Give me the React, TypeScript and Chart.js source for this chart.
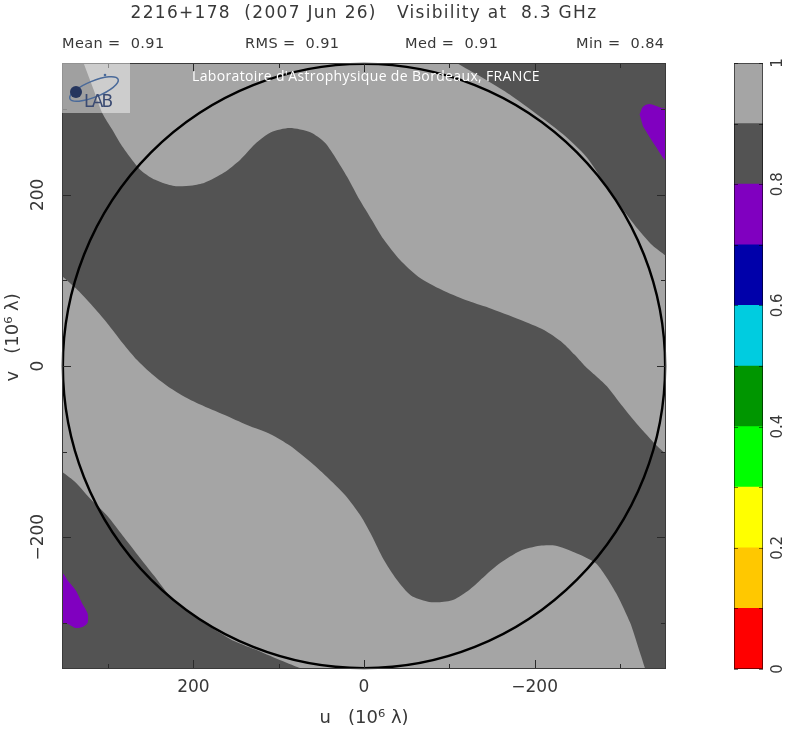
import React, { useEffect, useRef } from "react";
import { Chart, registerables } from "chart.js";

Chart.register(...registerables);

// ---------- data ----------
const AXIS_LIMIT = 354; // u, v half range (10^6 lambda)
const CIRCLE_RADIUS = 353;
const axisTickValues = [-300, -200, -100, 0, 100, 200, 300];
const axisLabelValues = [-200, 0, 200];

type Pt = [number, number];

// upper edge of the central dark band (0.8-0.9), from top edge to right edge
const upperBandEdge: Pt[] = [
  [331, 362], [329, 355], [317, 323], [307, 296], [295, 276], [285, 259], [272, 241],
  [261, 228], [248, 219], [233, 213], [219, 210], [201, 211], [187, 214], [164, 226],
  [145, 241], [128, 259], [109, 273], [87, 278], [63, 273], [46, 261], [32, 241],
  [18, 218], [5, 194], [-9, 171], [-23, 148], [-42, 124], [-64, 104], [-91, 89],
  [-119, 77], [-146, 68], [-183, 54], [-211, 42], [-233, 27], [-247, 13], [-258, 1],
  [-270, -10], [-285, -24], [-302, -46], [-321, -69], [-343, -93], [-355, -104], [-362, -110],
];
// boundary of the top-right dark corner, from top edge to right edge
const topRightCorner: Pt[] = [
  [-100, 362], [-107, 355], [-137, 338], [-165, 321], [-192, 302], [-233, 271],
  [-261, 244], [-283, 212], [-302, 185], [-321, 160], [-338, 141], [-355, 128], [-362, 124],
];
// lower edge of the central dark band, from left edge to bottom edge
const lowerBandEdge: Pt[] = [
  [362, 112], [356, 107], [338, 91], [320, 72], [301, 50], [283, 27], [266, 7],
  [249, -9], [231, -23], [212, -35], [192, -45], [164, -57], [137, -69], [109, -80], [87, -93],
  [63, -112], [41, -132], [22, -151], [4, -175], [-9, -198], [-23, -226], [-38, -249],
  [-55, -268], [-74, -275], [-87, -276], [-105, -273], [-124, -261], [-142, -245],
  [-160, -230], [-183, -216], [-206, -210], [-225, -210], [-247, -218], [-271, -230],
  [-283, -245], [-297, -268], [-312, -300], [-321, -327], [-330, -355], [-332, -362],
];
// boundary of the bottom-left dark corner, from left edge to bottom edge
const bottomLeftCorner: Pt[] = [
  [362, -117], [356, -122], [338, -136], [320, -156], [301, -175], [283, -198],
  [265, -221], [246, -245], [228, -268], [205, -288], [183, -303], [155, -320],
  [128, -331], [100, -343], [80, -351], [70, -355], [66, -362],
];
// 0.7-0.8 islands
const purpleTopRight: Pt[] = [
  [-323, 294], [-327, 303], [-335, 306], [-347, 302], [-362, 297], [-362, 232],
  [-350, 244], [-343, 255], [-335, 267], [-327, 280],
];
const purpleBottomLeft: Pt[] = [
  [362, -239], [354, -241], [347, -251], [338, -262], [330, -278], [324, -289],
  [324, -300], [330, -305], [338, -306], [348, -301], [362, -300],
];

const colorbarLevels = [0, 0.1, 0.2, 0.3, 0.4, 0.5, 0.6, 0.7, 0.8, 0.9, 1];
const colorbarColors = [
  "#ff0000", "#ffc800", "#ffff00", "#00ff00", "#009600",
  "#00cce0", "#0000aa", "#8000c0", "#535353", "#a5a5a5",
];
const colorbarTickValues = [0, 0.2, 0.4, 0.6, 0.8, 1];

const statNames = ["Mean", "RMS", "Med", "Min"];
const statValues = ["0.91", "0.91", "0.91", "0.84"];

const TITLE = "2216+178  (2007 Jun 26)   Visibility at  8.3 GHz";
const WATERMARK = "Laboratoire d'Astrophysique de Bordeaux, FRANCE";
const X_TITLE = "u   (10\u2076 \u03bb)";
const Y_TITLE = "v   (10\u2076 \u03bb)";

// ---------- styles ----------
const DARK = "#535353";
const LIGHT = "#a5a5a5";
const PURPLE = "#8000c0";
const TEXT = "#383838";
const FONT = "DejaVu Sans";

const toXY = (pts: Pt[]) => pts.map(([x, y]) => ({ x, y }));

function polygonDataset(pts: Pt[], color: string) {
  return {
    data: toXY(pts),
    fill: "shape" as const,
    backgroundColor: color,
    borderColor: "transparent",
    borderWidth: 0,
    pointRadius: 0,
    tension: 0.25,
  };
}

const minus = (v: number) => (v < 0 ? "\u2212" + Math.abs(v) : String(v));

export default function App() {
  const mainRef = useRef<HTMLCanvasElement>(null);
  const barRef = useRef<HTMLCanvasElement>(null);

  useEffect(() => {
    Chart.defaults.font.family = FONT;
    Chart.defaults.color = TEXT;

    const lightUpper = [...upperBandEdge, ...topRightCorner.slice().reverse()];
    const lightLower = [...lowerBandEdge, ...bottomLeftCorner.slice().reverse()];

    const bgPlugin = {
      id: "bg",
      beforeDatasetsDraw(chart: any) {
        const { ctx, chartArea: a } = chart;
        ctx.save();
        ctx.fillStyle = DARK;
        ctx.fillRect(a.left, a.top, a.right - a.left, a.bottom - a.top);
        ctx.restore();
      },
    };

    const overlayPlugin = {
      id: "overlay",
      afterDatasetsDraw(chart: any) {
        const { ctx, chartArea: a, scales } = chart;
        const x = scales.x, y = scales.y;
        ctx.save();
        // uv coverage circle
        const cx = x.getPixelForValue(0), cy = y.getPixelForValue(0);
        const rx = Math.abs(x.getPixelForValue(CIRCLE_RADIUS) - cx);
        const ry = Math.abs(y.getPixelForValue(CIRCLE_RADIUS) - cy);
        ctx.beginPath();
        ctx.ellipse(cx, cy, rx, ry, 0, 0, Math.PI * 2);
        ctx.strokeStyle = "#000";
        ctx.lineWidth = 2.4;
        ctx.stroke();
        // inward ticks
        ctx.strokeStyle = "#2a2a2a";
        ctx.lineWidth = 1;
        ctx.beginPath();
        for (const v of axisTickValues) {
          const len = axisLabelValues.includes(v) ? 9 : 5;
          const px = Math.round(x.getPixelForValue(v)) + 0.5;
          ctx.moveTo(px, a.bottom); ctx.lineTo(px, a.bottom - len);
          ctx.moveTo(px, a.top); ctx.lineTo(px, a.top + len);
          const py = Math.round(y.getPixelForValue(v)) + 0.5;
          ctx.moveTo(a.left, py); ctx.lineTo(a.left + len, py);
          ctx.moveTo(a.right, py); ctx.lineTo(a.right - len, py);
        }
        ctx.stroke();
        ctx.strokeStyle = "#3a3a3a";
        ctx.strokeRect(a.left + 0.5, a.top + 0.5, a.right - a.left - 1, a.bottom - a.top - 1);
        ctx.restore();
      },
    };

    const main = new Chart(mainRef.current!, {
      type: "line",
      data: {
        datasets: [
          polygonDataset(lightUpper, LIGHT),
          polygonDataset(lightLower, LIGHT),
          polygonDataset(purpleTopRight, PURPLE),
          polygonDataset(purpleBottomLeft, PURPLE),
        ] as any,
      },
      options: {
        responsive: false,
        animation: false,
        events: [],
        layout: { padding: { top: 63, right: 120, left: 0, bottom: 0 } },
        plugins: { legend: { display: false }, tooltip: { enabled: false } },
        scales: {
          x: {
            type: "linear",
            reverse: true,
            min: -AXIS_LIMIT,
            max: AXIS_LIMIT,
            afterFit: (s: any) => { s.height = 66; },
            afterBuildTicks: (s: any) => { s.ticks = axisTickValues.map((value) => ({ value })); },
            grid: { display: false, drawTicks: false },
            border: { display: false },
            ticks: {
              autoSkip: false,
              maxRotation: 0,
              padding: 8,
              font: { size: 17 },
              color: TEXT,
              callback: (v: any) => (axisLabelValues.includes(v) ? minus(v) : ""),
            },
            title: {
              display: true,
              text: X_TITLE,
              font: { size: 18 },
              color: TEXT,
              padding: { top: 0, bottom: 6 },
            },
          },
          y: {
            type: "linear",
            min: -AXIS_LIMIT,
            max: AXIS_LIMIT,
            afterFit: (s: any) => { s.width = 62; },
            afterBuildTicks: (s: any) => { s.ticks = axisTickValues.map((value) => ({ value })); },
            grid: { display: false, drawTicks: false },
            border: { display: false },
            ticks: {
              autoSkip: false,
              minRotation: 90,
              maxRotation: 90,
              crossAlign: "center",
              padding: 0,
              font: { size: 17 },
              color: TEXT,
              callback: (v: any) => (axisLabelValues.includes(v) ? minus(v) : ""),
            },
            title: {
              display: true,
              text: "          " + Y_TITLE,
              font: { size: 18 },
              color: TEXT,
              padding: { top: 3, bottom: 0 },
            },
          },
        },
      },
      plugins: [bgPlugin, overlayPlugin],
    } as any);

    const barFrame = {
      id: "barFrame",
      afterDatasetsDraw(chart: any) {
        const { ctx, chartArea: a, scales } = chart;
        ctx.save();
        ctx.strokeStyle = "rgba(0,0,0,0.55)";
        ctx.lineWidth = 1;
        ctx.beginPath();
        for (const lv of colorbarLevels) {
          const py = Math.round(scales.y.getPixelForValue(lv)) + 0.5;
          ctx.moveTo(a.left, py); ctx.lineTo(a.left + 4, py);
          ctx.moveTo(a.right, py); ctx.lineTo(a.right - 4, py);
        }
        ctx.stroke();
        ctx.strokeRect(a.left + 0.5, a.top + 0.5, a.right - a.left - 1, a.bottom - a.top - 1);
        ctx.restore();
      },
    };

    const bar = new Chart(barRef.current!, {
      type: "bar",
      data: {
        labels: [""],
        datasets: colorbarColors.map((c, i) => ({
          data: [[colorbarLevels[i], colorbarLevels[i + 1]]],
          backgroundColor: c,
          borderWidth: 0,
          grouped: false,
          barPercentage: 1,
          categoryPercentage: 1,
        })),
      },
      options: {
        responsive: false,
        animation: false,
        events: [],
        layout: { padding: { left: 734, top: 63, bottom: 66, right: 0 } },
        plugins: { legend: { display: false }, tooltip: { enabled: false } },
        scales: {
          x: { display: false },
          y: {
            position: "right",
            min: 0,
            max: 1,
            afterFit: (s: any) => { s.width = 23; },
            afterBuildTicks: (s: any) => { s.ticks = colorbarTickValues.map((value) => ({ value })); },
            grid: { display: false, drawTicks: false },
            border: { display: false },
            ticks: {
              minRotation: 90,
              maxRotation: 90,
              crossAlign: "center",
              padding: 3,
              font: { size: 15 },
              color: TEXT,
              callback: (v: any) => String(v),
            },
          },
        },
      },
      plugins: [barFrame],
    } as any);

    return () => {
      main.destroy();
      bar.destroy();
    };
  }, []);

  const statLeft = [62, 245, 405, 576];

  return (
    <div
      style={{
        position: "absolute",
        left: 0,
        top: 0,
        width: 786,
        height: 735,
        background: "#fff",
        fontFamily: FONT,
        color: TEXT,
        overflow: "hidden",
      }}
    >
      <canvas ref={mainRef} width={786} height={735} style={{ position: "absolute", left: 0, top: 0 }} />
      <canvas ref={barRef} width={786} height={735} style={{ position: "absolute", left: 0, top: 0 }} />
      <div
        style={{
          position: "absolute",
          left: 0,
          top: 2,
          width: 728,
          textAlign: "center",
          fontSize: 17,
          lineHeight: "20px",
          letterSpacing: 1.3,
          whiteSpace: "pre",
        }}
      >
        {TITLE}
      </div>
      {statNames.map((n, i) => (
        <div
          key={n}
          style={{
            position: "absolute",
            left: statLeft[i],
            top: 34,
            fontSize: 14.5,
            lineHeight: "18px",
            letterSpacing: 0.4,
            whiteSpace: "pre",
          }}
        >
          {`${n} =  ${statValues[i]}`}
        </div>
      ))}
      <svg width={68} height={50} style={{ position: "absolute", left: 62, top: 63 }}>
        <rect x={0} y={0} width={68} height={50} fill="rgba(255,255,255,0.45)" />
        <ellipse cx={32} cy={26} rx={26} ry={8} transform="rotate(-22 32 26)" fill="none" stroke="#4a6a9a" strokeWidth={1.5} />
        <circle cx={14} cy={29} r={6} fill="#26365e" />
        <circle cx={43} cy={12} r={1.3} fill="#4a6a9a" />
        <text x={22} y={44} fontFamily="DejaVu Sans" fontSize={17} fill="#3a4a72" letterSpacing={-2}>LAB</text>
      </svg>
      <div
        style={{
          position: "absolute",
          left: 192,
          top: 67,
          fontFamily: "Open Sans",
          fontSize: 14,
          lineHeight: "18px",
          letterSpacing: 0.35,
          color: "#ffffff",
          whiteSpace: "pre",
        }}
      >
        {WATERMARK}
      </div>
    </div>
  );
}
